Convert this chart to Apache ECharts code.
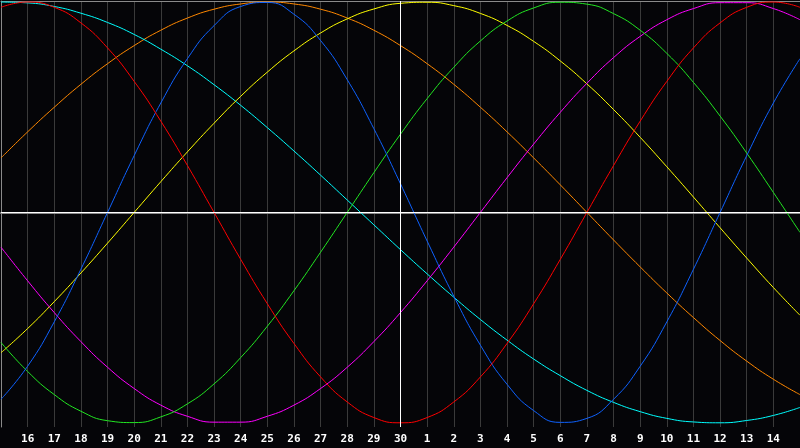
<!DOCTYPE html>
<html>
<head>
<meta charset="utf-8">
<script src="https://cdn.jsdelivr.net/npm/echarts@6/dist/echarts.min.js"></script>
<style>html,body{margin:0;padding:0;background:#050508;}#c{width:800px;height:448px;}</style>
</head>
<body>
<div id="c"></div>
<script>
// Tick labels (day of month), index 0 .. 30
const dayLabels = [15,16,17,18,19,20,21,22,23,24,25,26,27,28,29,30,1,2,3,4,5,6,7,8,9,10,11,12,13,14,15];
const todayIndex = 15;

// Values, one per day (index 0..30), range -1..1
const blueValues = [-0.888,-0.731,-0.520,-0.270,0,0.270,0.520,0.731,0.888,0.979,0.998,0.942,0.817,0.631,0.398,0.136,-0.136,-0.398,-0.631,-0.817,-0.942,-0.998,-0.979,-0.888,-0.731,-0.520,-0.270,0,0.270,0.520,0.731];
const redValues = [0.975,1.000,0.975,0.901,0.782,0.623,0.434,0.223,0,-0.223,-0.434,-0.623,-0.782,-0.901,-0.975,-1.000,-0.975,-0.901,-0.782,-0.623,-0.434,-0.223,0,0.223,0.434,0.623,0.782,0.901,0.975,1.000,0.975];
const greenValues = [-0.618,-0.756,-0.866,-0.945,-0.990,-0.999,-0.972,-0.910,-0.815,-0.690,-0.541,-0.372,-0.189,0,0.189,0.372,0.541,0.690,0.815,0.910,0.972,0.999,0.990,0.945,0.866,0.756,0.618,0.458,0.282,0.095,-0.095];
const magentaValues = [-0.165,-0.325,-0.476,-0.614,-0.736,-0.837,-0.916,-0.969,-0.997,-0.997,-0.969,-0.916,-0.837,-0.736,-0.614,-0.476,-0.325,-0.165,0,0.165,0.325,0.476,0.614,0.736,0.837,0.916,0.969,0.997,0.997,0.969,0.916];
const yellowValues = [-0.667,-0.552,-0.424,-0.288,-0.146,0,0.146,0.288,0.424,0.552,0.667,0.768,0.853,0.920,0.967,0.994,0.999,0.983,0.946,0.889,0.813,0.720,0.611,0.489,0.357,0.217,0.073,-0.073,-0.217,-0.357,-0.489];
const orangeValues = [0.259,0.383,0.500,0.609,0.707,0.793,0.866,0.924,0.966,0.991,1.000,0.991,0.966,0.924,0.866,0.793,0.707,0.609,0.500,0.383,0.259,0.131,0,-0.131,-0.259,-0.383,-0.500,-0.609,-0.707,-0.793,-0.866];
const cyanValues = [1.000,0.996,0.979,0.947,0.903,0.846,0.776,0.697,0.607,0.509,0.403,0.292,0.177,0.059,-0.059,-0.177,-0.292,-0.403,-0.509,-0.607,-0.697,-0.776,-0.846,-0.903,-0.947,-0.979,-0.996,-1.000,-0.989,-0.965,-0.927];

const seriesDefs = [
  {name:'orange', color:'#ff8800', values:orangeValues},
  {name:'cyan', color:'#00ffff', values:cyanValues},
  {name:'yellow', color:'#ffff00', values:yellowValues},
  {name:'magenta', color:'#ff00ff', values:magentaValues},
  {name:'green', color:'#22e622', values:greenValues},
  {name:'blue', color:'#0f62ff', values:blueValues},
  {name:'red', color:'#ff0000', values:redValues}
];

const chart = echarts.init(document.getElementById('c'), null, {renderer:'canvas'});

const series = seriesDefs.map(s => ({
  name: s.name,
  type: 'line',
  smooth: true,
  symbol: 'none',
  silent: true,
  animation: false,
  lineStyle: {color: s.color, width: 1},
  data: s.values.map((v, i) => [i, v]),
  z: 3
}));

series.push({
  type: 'line',
  data: [],
  silent: true,
  animation: false,
  markLine: {
    silent: true,
    symbol: 'none',
    animation: false,
    label: {show: false},
    lineStyle: {color: '#ffffff', width: 1, type: 'solid'},
    data: [{yAxis: 0}, {xAxis: todayIndex}]
  },
  z: 2
});

chart.setOption({
  backgroundColor: '#050508',
  animation: false,
  grid: {left: 1, right: 0, top: 1, bottom: 21, containLabel: false},
  xAxis: [{
    type: 'value',
    min: 0, max: dayLabels.length - 1, interval: 1,
    axisLine: {show: true, lineStyle: {color: '#8a8a8a', width: 2}},
    axisTick: {show: false},
    splitLine: {show: true, lineStyle: {color: '#3a3a3a', width: 1}},
    axisLabel: {
      show: true,
      color: '#ffffff',
      fontFamily: 'DejaVu Sans Mono',
      fontWeight: 'bold',
      fontSize: 11,
      margin: 7,
      showMinLabel: false,
      showMaxLabel: false,
      formatter: v => (v <= 0 || v >= dayLabels.length - 1) ? '' : String(dayLabels[v])
    }
  }, {
    type: 'value',
    position: 'top',
    min: 0, max: dayLabels.length - 1,
    axisLine: {show: true, lineStyle: {color: '#8a8a8a', width: 1}},
    axisTick: {show: false},
    axisLabel: {show: false},
    splitLine: {show: false}
  }],
  yAxis: {
    type: 'value',
    min: -1.02, max: 1.005,
    axisLine: {show: true, lineStyle: {color: '#8a8a8a', width: 1}},
    axisTick: {show: false},
    axisLabel: {show: false},
    splitLine: {show: false}
  },
  series: series
});
</script>
</body>
</html>
